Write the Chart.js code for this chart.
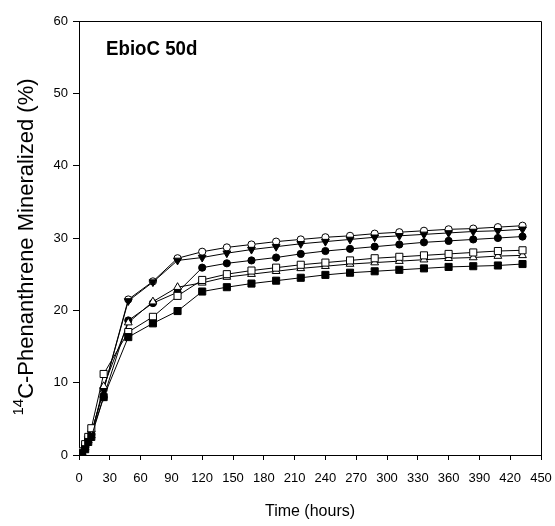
<!DOCTYPE html>
<html>
<head>
<meta charset="utf-8">
<script src="https://cdn.jsdelivr.net/npm/chart.js@4"></script>
<style>
  body { margin: 0; background: #fff; }
  #wrap { width: 555px; height: 526px; }
</style>
</head>
<body>
<div id="wrap"><canvas id="chart" width="555" height="526"></canvas></div>
<script>
// sampling times (hours)
const hours = [0, 3, 6, 9, 12, 24, 48, 72, 96, 120, 144, 168, 192, 216, 240, 264, 288, 312, 336, 360, 384, 408, 432];

// % mineralized for each treatment
const openCircle   = [0, 0.5, 1.2, 2.2, 3.0, 9.0, 21.5, 24.0, 27.2, 28.1, 28.7, 29.1, 29.5, 29.8, 30.1, 30.3, 30.6, 30.8, 31.0, 31.2, 31.3, 31.5, 31.7];
const filledTri    = [0, 0.5, 1.2, 2.2, 3.0, 9.0, 21.3, 23.9, 26.9, 27.3, 27.9, 28.4, 28.8, 29.2, 29.5, 29.8, 30.1, 30.3, 30.5, 30.7, 30.9, 31.0, 31.2];
const filledCircle = [0, 0.5, 1.0, 2.0, 2.8, 8.0, 18.6, 21.0, 22.5, 25.9, 26.5, 26.9, 27.3, 27.8, 28.2, 28.5, 28.8, 29.1, 29.4, 29.6, 29.8, 30.0, 30.2];
const openTri      = [0, 0.4, 1.0, 2.0, 2.7, 9.5, 18.3, 21.2, 23.2, 23.8, 24.6, 25.0, 25.4, 25.8, 26.1, 26.4, 26.6, 26.8, 27.0, 27.2, 27.3, 27.5, 27.6];
const openSquare   = [0, 0.5, 1.5, 2.5, 3.7, 11.2, 17.0, 19.1, 22.0, 24.2, 25.0, 25.5, 25.9, 26.3, 26.6, 26.9, 27.2, 27.4, 27.6, 27.8, 28.0, 28.2, 28.3];
const filledSquare = [0, 0.3, 0.8, 1.8, 2.5, 8.0, 16.3, 18.2, 19.9, 22.6, 23.2, 23.7, 24.1, 24.5, 24.9, 25.2, 25.4, 25.6, 25.8, 26.0, 26.1, 26.2, 26.4];

const xTicks = [0, 30, 60, 90, 120, 150, 180, 210, 240, 270, 300, 330, 360, 390, 420, 450];
const yTicks = [0, 10, 20, 30, 40, 50, 60];

function toPoints(vals) {
    return hours.map((h, i) => ({ x: h, y: vals[i] }));
}

function series(vals, style, fill, rot) {
    let r = 4.5;
    if (style === 'rect') r = 5;
    if (style === 'circle') r = 3.6;
    return {
        data: toPoints(vals),
        borderColor: '#000',
        borderWidth: 1,
        pointStyle: style,
        pointRotation: rot || 0,
        pointRadius: r,
        pointBackgroundColor: fill,
        pointBorderColor: '#000',
        pointBorderWidth: 1,
        fill: false,
        tension: 0
    };
}

// frame, panel label and axis titles
const decor = {
    id: 'decor',
    afterDraw(chart) {
        const c = chart.ctx;
        const a = chart.chartArea;
        c.save();
        c.strokeStyle = '#000';
        c.lineWidth = 1;
        c.beginPath();
        c.moveTo(a.left, a.top + 0.5);
        c.lineTo(a.right + 0.5, a.top + 0.5);
        c.lineTo(a.right + 0.5, a.bottom);
        c.stroke();

        c.fillStyle = '#000';
        c.textBaseline = 'alphabetic';
        // panel label, a bit narrow like the original
        c.save();
        c.translate(a.left + 27, a.top + 34);
        c.scale(0.89, 1);
        c.font = 'bold 21px "Liberation Sans", Arial, sans-serif';
        c.fillText('EbioC 50d', 0, 0);
        c.restore();

        c.font = '16px "Liberation Sans", Arial, sans-serif';
        c.textAlign = 'center';
        c.fillText('Time (hours)', (a.left + a.right) / 2, 516);

        // rotated y title with superscript 14
        c.translate(33, 247);
        c.rotate(-Math.PI / 2);
        const main = 'C-Phenanthrene Mineralized (%)';
        c.font = '22px "Liberation Sans", Arial, sans-serif';
        const wMain = c.measureText(main).width;
        c.font = '15px "Liberation Sans", Arial, sans-serif';
        const wSup = c.measureText('14').width;
        const start = -(wMain + wSup) / 2;
        c.textAlign = 'left';
        c.fillText('14', start, -10);
        c.font = '22px "Liberation Sans", Arial, sans-serif';
        c.fillText(main, start + wSup, 0);
        c.restore();
    }
};

const tickFont = { family: '"Liberation Sans", Arial, sans-serif', size: 13 };

new Chart(document.getElementById('chart'), {
    type: 'line',
    data: {
        datasets: [
            series(filledSquare, 'rect', '#000'),
            series(openSquare, 'rect', '#fff'),
            series(openTri, 'triangle', '#fff'),
            series(filledCircle, 'circle', '#000'),
            series(filledTri, 'triangle', '#000', 180),
            series(openCircle, 'circle', '#fff')
        ]
    },
    options: {
        responsive: false,
        animation: false,
        layout: { padding: { top: 21, right: 14, left: 0, bottom: 0 } },
        plugins: { legend: { display: false }, tooltip: { enabled: false }, title: { display: false } },
        scales: {
            x: {
                type: 'linear',
                min: 0,
                max: 450,
                afterBuildTicks: s => { s.ticks = xTicks.map(v => ({ value: v })); },
                afterFit: s => { s.height = 71; s.paddingRight = 14; s.paddingLeft = 0; },
                ticks: { color: '#000', font: tickFont, maxRotation: 0, autoSkip: false, padding: 11 },
                grid: { drawOnChartArea: false, drawTicks: true, tickLength: 5, color: '#000' },
                border: { color: '#000', width: 1 }
            },
            y: {
                min: 0,
                max: 60,
                afterBuildTicks: s => { s.ticks = yTicks.map(v => ({ value: v })); },
                afterFit: s => { s.width = 79; },
                ticks: { color: '#000', font: tickFont, padding: 5 },
                grid: { drawOnChartArea: false, drawTicks: true, tickLength: 6, color: '#000' },
                border: { color: '#000', width: 1 }
            }
        }
    },
    plugins: [decor]
});
</script>
</body>
</html>
